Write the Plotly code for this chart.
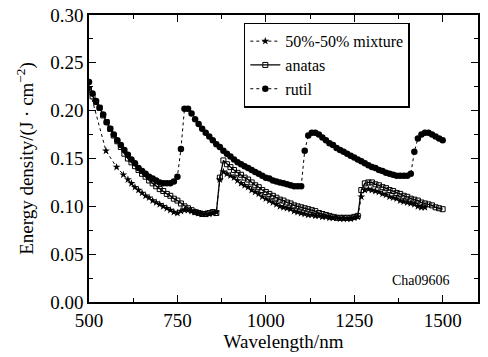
import plotly.graph_objects as go

# ---- data ----
rutil_x = list(range(500, 1501, 10))
rutil_y = [0.230, 0.218, 0.210, 0.203, 0.196, 0.188, 0.181, 0.175, 0.169, 0.164,
           0.159, 0.154, 0.149, 0.145, 0.140, 0.137, 0.134, 0.131, 0.129, 0.127,
           0.125, 0.124, 0.124, 0.124, 0.126, 0.131, 0.160, 0.202, 0.202, 0.197,
           0.191, 0.186, 0.181, 0.177, 0.173, 0.169, 0.165, 0.162, 0.158, 0.155,
           0.152, 0.149, 0.146, 0.144, 0.142, 0.140, 0.138, 0.136, 0.134, 0.132,
           0.130, 0.129, 0.127, 0.126, 0.125, 0.124, 0.123, 0.122, 0.121, 0.121,
           0.121, 0.158, 0.174, 0.177, 0.177, 0.175, 0.172, 0.169, 0.166, 0.164,
           0.161, 0.159, 0.157, 0.155, 0.153, 0.151, 0.149, 0.147, 0.145, 0.143,
           0.141, 0.140, 0.138, 0.137, 0.135, 0.134, 0.133, 0.132, 0.132, 0.132,
           0.132, 0.134, 0.157, 0.171, 0.175, 0.177, 0.177, 0.175, 0.173, 0.171,
           0.169]

anatas_x = list(range(500, 1501, 10))
anatas_y = [0.222, 0.215, 0.209, 0.203, 0.195, 0.188, 0.181, 0.174, 0.168, 0.162,
            0.155, 0.150, 0.146, 0.142, 0.138, 0.134, 0.131, 0.127, 0.124, 0.121,
            0.118, 0.116, 0.113, 0.111, 0.108, 0.106, 0.103, 0.100, 0.098, 0.096,
            0.094, 0.093, 0.092, 0.092, 0.093, 0.094, 0.093, 0.130, 0.148, 0.144,
            0.141, 0.138, 0.135, 0.133, 0.130, 0.128, 0.125, 0.122, 0.120, 0.117,
            0.115, 0.113, 0.111, 0.109, 0.107, 0.106, 0.104, 0.103, 0.101, 0.100,
            0.099, 0.098, 0.097, 0.096, 0.095, 0.093, 0.092, 0.091, 0.090, 0.089,
            0.088, 0.088, 0.088, 0.088, 0.088, 0.089, 0.090, 0.117, 0.124, 0.125,
            0.125, 0.123, 0.122, 0.120, 0.119, 0.117, 0.116, 0.114, 0.113, 0.111,
            0.110, 0.108, 0.107, 0.106, 0.104, 0.103, 0.102, 0.101, 0.099, 0.098,
            0.097]

mix_x = [500, 548, 578, 597] + list(range(610, 861, 10)) + list(range(870, 1451, 10))
mix_y = [0.224, 0.158, 0.141, 0.133,
         0.128, 0.124, 0.120, 0.117, 0.114, 0.111, 0.109, 0.106, 0.104, 0.102,
         0.100, 0.098, 0.096, 0.094, 0.093, 0.095, 0.096, 0.096, 0.095, 0.094,
         0.093, 0.092, 0.092, 0.092, 0.093, 0.094,
         0.128, 0.136, 0.134, 0.132, 0.130, 0.127, 0.124, 0.122, 0.120, 0.117,
         0.115, 0.113, 0.110, 0.108, 0.106, 0.104, 0.102, 0.100, 0.099, 0.098,
         0.097, 0.095, 0.094, 0.093, 0.092, 0.091, 0.091, 0.090, 0.090, 0.089,
         0.089, 0.088, 0.088, 0.088, 0.087, 0.087, 0.087, 0.087, 0.088, 0.089,
         0.110, 0.117, 0.118, 0.117, 0.116, 0.115, 0.113, 0.112, 0.110, 0.109,
         0.108, 0.106, 0.105, 0.104, 0.103, 0.102, 0.100, 0.099, 0.099]

x_ticks = [500, 750, 1000, 1250, 1500]
y_ticks = [0.00, 0.05, 0.10, 0.15, 0.20, 0.25, 0.30]

FONT = "Liberation Serif, Times New Roman, serif"

fig = go.Figure()
fig.add_trace(go.Scatter(
    x=mix_x, y=mix_y, name="50%-50% mixture", mode="lines+markers",
    line=dict(color="black", width=1, dash="dot"),
    marker=dict(symbol="star", size=6, color="black", line=dict(width=0)),
))
fig.add_trace(go.Scatter(
    x=anatas_x, y=anatas_y, name="anatas", mode="lines+markers",
    line=dict(color="black", width=1.3),
    marker=dict(symbol="square-open", size=5, color="black", line=dict(width=1)),
))
fig.add_trace(go.Scatter(
    x=rutil_x, y=rutil_y, name="rutil", mode="lines+markers",
    line=dict(color="black", width=1, dash="dot"),
    marker=dict(symbol="circle", size=6.5, color="black"),
))

fig.add_annotation(x=1440, y=0.023, text="Cha09606", showarrow=False,
                   font=dict(family=FONT, size=14, color="black"))

axis_common = dict(
    showgrid=False, zeroline=False, showline=True, linecolor="black", linewidth=1.5,
    mirror="allticks", ticks="inside", ticklen=7, tickwidth=1.2, tickcolor="black",
    tickfont=dict(family=FONT, size=19, color="black"),
)

fig.update_xaxes(
    range=[500, 1600], tickvals=x_ticks,
    minor=dict(dtick=125, tick0=500, ticks="inside", ticklen=4, tickcolor="black", tickwidth=1.2),
    title=dict(text="Wavelength/nm", font=dict(family=FONT, size=19, color="black"), standoff=5),
    automargin=False,
    **axis_common,
)
fig.update_yaxes(
    range=[0, 0.30], tickvals=y_ticks, tickformat=".2f",
    minor=dict(dtick=0.025, tick0=0, ticks="inside", ticklen=4, tickcolor="black", tickwidth=1.2),
    title=dict(text="Energy density/(J · cm<sup>−2</sup>)", font=dict(family=FONT, size=19, color="black"), standoff=12),
    automargin=False,
    **axis_common,
)

fig.update_layout(
    width=488, height=357,
    margin=dict(l=89, r=10, t=15, b=55),
    plot_bgcolor="white", paper_bgcolor="white",
    showlegend=True,
    legend=dict(
        x=0.398, y=0.973, xanchor="left", yanchor="top",
        bordercolor="black", borderwidth=1.5, bgcolor="white",
        font=dict(family=FONT, size=16, color="black"),
        tracegroupgap=0,
    ),
)

fig.write_html("out.html", config={"displayModeBar": False},
               post_script="document.body.style.margin='0px';")
